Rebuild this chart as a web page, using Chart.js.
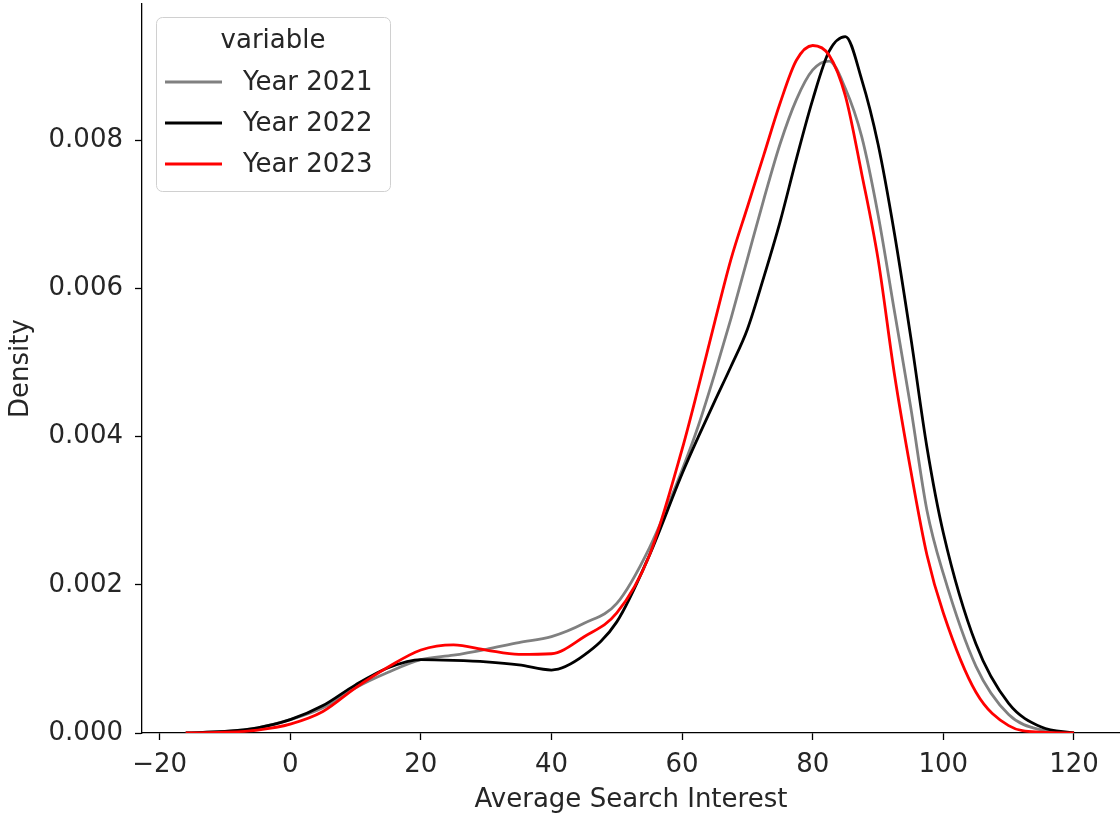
<!DOCTYPE html>
<html>
<head>
<meta charset="utf-8">
<script src="https://cdn.jsdelivr.net/npm/chart.js@4.4.1/dist/chart.umd.min.js"></script>
<style>
  html, body { margin: 0; padding: 0; background: #fff; }
  #wrap { width: 1120px; height: 819px; position: relative; }
</style>
</head>
<body>
<div id="wrap"><canvas id="kde"></canvas></div>
<script>
// x positions (Average Search Interest) where the curves were read
const xValues = [-16, -10, -5, 0, 5, 10, 15, 20, 25, 30, 35, 40, 45, 50, 55, 60, 62.5, 65, 67.5, 70,
                 72.5, 75, 77.5, 80, 82.5, 85, 87.5, 90, 92.5, 95, 97.5, 100, 105, 110, 115, 120];

// densities, in units of 0.001
const year2021 = [0.0, 0.02, 0.07, 0.18, 0.34, 0.61, 0.82, 0.99, 1.05, 1.13, 1.22, 1.30, 1.48, 1.75, 2.50, 3.55, 4.15, 4.85, 5.60, 6.40,
                  7.20, 7.95, 8.55, 8.95, 9.07, 8.70, 8.05, 7.00, 5.70, 4.40, 3.00, 2.15, 0.90, 0.25, 0.04, 0.0];
const year2022 = [0.0, 0.02, 0.07, 0.18, 0.37, 0.65, 0.88, 0.99, 0.98, 0.96, 0.92, 0.85, 1.05, 1.50, 2.40, 3.50, 4.00, 4.48, 4.95, 5.45,
                  6.15, 6.90, 7.75, 8.55, 9.20, 9.40, 8.82, 7.95, 6.75, 5.35, 3.85, 2.70, 1.20, 0.40, 0.08, 0.0];
const year2023 = [0.0, 0.01, 0.04, 0.12, 0.29, 0.61, 0.89, 1.12, 1.19, 1.12, 1.06, 1.07, 1.30, 1.62, 2.40, 3.83, 4.67, 5.55, 6.40, 7.10,
                  7.80, 8.50, 9.08, 9.28, 9.15, 8.60, 7.55, 6.40, 4.85, 3.55, 2.40, 1.62, 0.55, 0.10, 0.01, 0.0];

const seriesNames = ["Year 2021", "Year 2022", "Year 2023"];
const seriesColors = ["#808080", "#000000", "#ff0000"];
const xTicks = [-20, 0, 20, 40, 60, 80, 100, 120];
const yTicks = [0, 0.002, 0.004, 0.006, 0.008];

const FONT = "'DejaVu Sans', sans-serif";
const FSIZE = 26;

function toPoints(ys) {
    return ys.map((v, i) => ({ x: xValues[i], y: v / 1000 }));
}

// matplotlib-style legend drawn inside the plot area
const insideLegend = {
    id: "insideLegend",
    afterDraw(chart) {
        const ctx = chart.ctx;
        const bx = 156, by = 17, bw = 234, bh = 174, r = 6;
        ctx.save();
        ctx.beginPath();
        ctx.roundRect(bx + 0.5, by + 0.5, bw, bh, r);
        ctx.fillStyle = "rgba(255,255,255,0.8)";
        ctx.fill();
        ctx.strokeStyle = "#d0d0d0";
        ctx.lineWidth = 1;
        ctx.stroke();

        ctx.fillStyle = "#262626";
        ctx.font = FSIZE + "px " + FONT;
        ctx.textBaseline = "middle";
        ctx.textAlign = "center";
        ctx.fillText("variable", 273, 41);

        ctx.textAlign = "left";
        chart.data.datasets.forEach((ds, i) => {
            const y = 82 + i * 41;
            ctx.beginPath();
            ctx.moveTo(165, y);
            ctx.lineTo(222, y);
            ctx.strokeStyle = ds.borderColor;
            ctx.lineWidth = 2.8;
            ctx.stroke();
            ctx.fillStyle = "#262626";
            ctx.fillText(ds.label, 243, y + 1);
        });
        ctx.restore();
    }
};

const ctx = document.getElementById("kde").getContext("2d");
new Chart(ctx, {
    type: "line",
    data: {
        datasets: [year2021, year2022, year2023].map((ys, i) => ({
            label: seriesNames[i],
            data: toPoints(ys),
            borderColor: seriesColors[i],
            borderWidth: 2.8,
            pointRadius: 0,
            fill: false,
            cubicInterpolationMode: "monotone",
            order: 3 - i
        }))
    },
    options: {
        responsive: true,
        maintainAspectRatio: false,
        animation: false,
        layout: { padding: { top: 4, right: 0, left: 0, bottom: 0 } },
        plugins: {
            legend: { display: false },
            tooltip: { enabled: false }
        },
        scales: {
            x: {
                type: "linear",
                min: -22.7,
                max: 127.05,
                afterBuildTicks: axis => { axis.ticks = xTicks.map(v => ({ value: v })); },
                afterFit: axis => { axis.height = 86; },
                grid: { drawOnChartArea: false, drawTicks: true, tickLength: 7, color: "#000", tickWidth: 1.3 },
                border: { display: true, color: "#000", width: 1.3 },
                ticks: {
                    color: "#262626",
                    font: { family: FONT, size: FSIZE },
                    padding: 10,
                    maxRotation: 0,
                    callback: v => (v < 0 ? "\u2212" + Math.abs(v) : String(v))
                },
                title: {
                    display: true,
                    text: "Average Search Interest",
                    color: "#262626",
                    font: { family: FONT, size: FSIZE },
                    padding: { top: 0, bottom: 3 }
                }
            },
            y: {
                min: 0,
                max: 0.00984,
                afterBuildTicks: axis => { axis.ticks = yTicks.map(v => ({ value: v })); },
                afterFit: axis => {
                    axis.width = 142;
                    axis.paddingTop = 0;
                    axis.paddingBottom = 0;
                },
                grid: { drawOnChartArea: false, drawTicks: true, tickLength: 7, color: "#000", tickWidth: 1.3 },
                border: { display: true, color: "#000", width: 1.3 },
                ticks: {
                    color: "#262626",
                    font: { family: FONT, size: FSIZE },
                    padding: 12,
                    callback: v => v.toFixed(3)
                },
                title: {
                    display: true,
                    text: "Density",
                    color: "#262626",
                    font: { family: FONT, size: FSIZE },
                    padding: { top: 6, bottom: 0 }
                }
            }
        }
    },
    plugins: [insideLegend]
});
</script>
</body>
</html>
